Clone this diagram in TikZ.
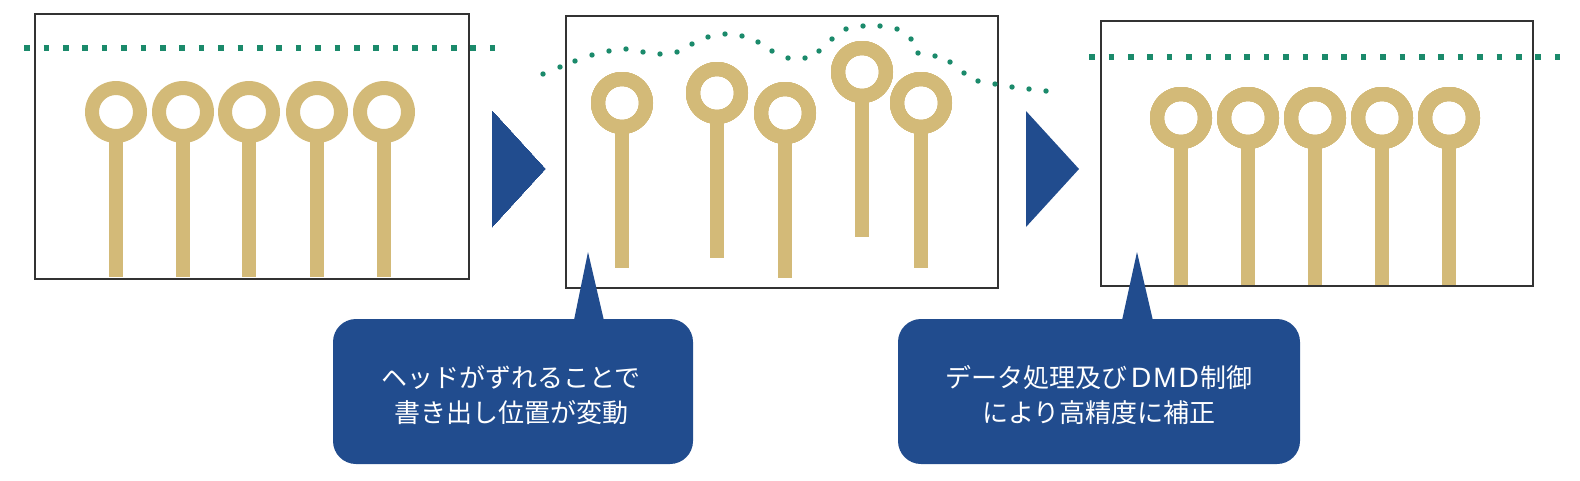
\documentclass[tikz,border=0pt]{standalone}
\usepackage{fontspec}
\newfontfamily\jpfont{Noto Sans CJK JP}
\newfontfamily\latinfont{Liberation Sans}
\usepackage{tikz}

\definecolor{padgold}{HTML}{D3BA78}
\definecolor{dotgreen}{HTML}{1B8A6B}
\definecolor{noteblue}{HTML}{214C8E}

\tikzset{
	frame/.style={draw=black!80, line width=1.5pt},
	dotline/.style={draw=dotgreen, line width=5.5pt, dash pattern=on 5.5pt off 13.9pt},
	notefill/.style={fill=noteblue},
	notetext/.style={text=white, align=center, font=\jpfont\fontsize{26}{35}\selectfont}
}

% one pad: x, y of the ring, bottom of the stem
\newcommand{\pcbpad}[3]{%
	\fill[padgold] (#1-7,#2+20) rectangle (#1+7,#3);
	\fill[padgold, even odd rule] (#1,#2) circle (31pt) (#1,#2) circle (17pt);
}

\begin{document}
\begin{tikzpicture}[x=1pt, y=-1pt]
			\useasboundingbox (0,0) rectangle (1580,480);
			% frames
			\draw[frame] (35,14) rectangle (469,279);
			\draw[frame] (566,16) rectangle (998,288);
			\draw[frame] (1101,21) rectangle (1533,286);
			% printed position lines
			\draw[dotline] (24.25,48) -- (500,48);
			\draw[dotline] (1089.25,57) -- (1565,57);
			\foreach \x/\y in {543/74,560/67,575/61,592/55,609/51,626/49,643/52,660/54,
				677/52,692/44,708/37,725/34,742/36,758/42,772/51,788/58,805/58,819/51,
				832/39,846/29,863/26,880/26,897/29,911/39,918/53,935/56,950/62,964/73,
				978/81,995/84,1012/87,1029/89,1046/91}
				\fill[dotgreen] (\x,\y) circle (2.7pt);
			% pads
			\foreach \x in {116,183,249,317,384}
				\pcbpad{\x}{112}{277}
			\pcbpad{622}{103}{268}
			\pcbpad{717}{93}{258}
			\pcbpad{785}{113}{278}
			\pcbpad{862}{72}{237}
			\pcbpad{921}{103}{268}
			\foreach \x in {1181,1248,1315,1382,1449}
				\pcbpad{\x}{118}{285}
			% steps
			\fill[noteblue] (492,111) -- (545,169) -- (492,227) -- cycle;
			\fill[noteblue] (1026,111) -- (1079,169) -- (1026,227) -- cycle;
			% notes
			\fill[notefill, rounded corners=23pt] (333,319) rectangle (693,464);
			\fill[notefill] (573,325) -- (588,252) -- (605,325) -- cycle;
			\node[notetext] (note1) at (511,395) {ヘッドがずれることで\\書き出し位置が変動};
			\fill[notefill, rounded corners=23pt] (898,319) rectangle (1300,464);
			\fill[notefill] (1121,325) -- (1137,252) -- (1154,325) -- cycle;
			\node[notetext] (note2) at (1099,395) {データ処理及び{\latinfont\fontsize{28}{35}\selectfont\hspace{4pt}D\hspace{2pt}M\hspace{2pt}D\hspace{2pt}}制御\\により高精度に補正};
		\end{tikzpicture}
\end{document}
